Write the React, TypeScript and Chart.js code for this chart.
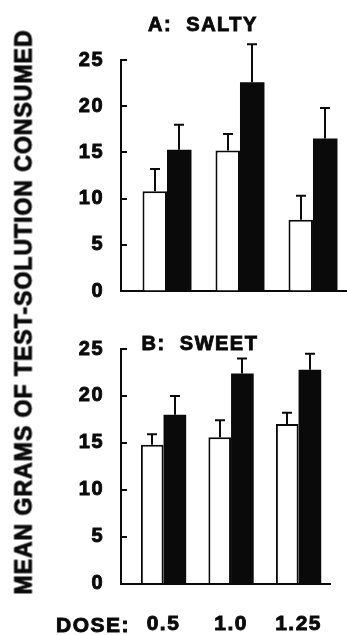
import React, { useEffect, useRef } from 'react';
import { Chart, registerables } from 'chart.js';

Chart.register(...registerables);

// ---------- data ----------
const doses = ['0.5', '1.0', '1.25'];
const dosePositions = [1, 2, 3];
const yTickValues = [0, 5, 10, 15, 20, 25];

const saltyControl = [10.8, 15.2, 7.7];
const saltyControlErr = [2.4, 1.8, 2.6];
const saltyDrug = [15.3, 22.6, 16.5];
const saltyDrugErr = [2.7, 4.1, 3.3];

const sweetControl = [14.8, 15.6, 17.0];
const sweetControlErr = [1.1, 1.8, 1.2];
const sweetDrug = [18.0, 22.4, 22.8];
const sweetDrugErr = [2.0, 1.6, 1.7];

// ---------- style ----------
const FONT = '"Liberation Sans", Arial, Helvetica, sans-serif';
const INK = '#0a0a0a';
const W = 347;

const paperPlugin = {
  id: 'paper',
  beforeDraw(chart: any) {
    chart.ctx.letterSpacing = '1.5px';
  },
  afterDatasetsDraw(chart: any) {
    const ctx = chart.ctx;
    const y = chart.scales.y;
    ctx.save();
    ctx.strokeStyle = INK;
    ctx.lineWidth = 2;
    chart.data.datasets.forEach((ds: any, di: number) => {
      const meta = chart.getDatasetMeta(di);
      meta.data.forEach((bar: any, i: number) => {
        const v = ds.data[i].y;
        const top = y.getPixelForValue(v + ds.errors[i]);
        const x = Math.round(bar.x);
        ctx.beginPath();
        ctx.moveTo(x, bar.y);
        ctx.lineTo(x, top);
        ctx.moveTo(x - 5, top);
        ctx.lineTo(x + 5, top);
        ctx.stroke();
      });
    });
    const left = chart.chartArea.left;
    y.ticks.forEach((t: any) => {
      const py = Math.round(y.getPixelForValue(t.value));
      ctx.beginPath();
      ctx.moveTo(left, py);
      ctx.lineTo(left + 6, py);
      ctx.stroke();
    });
    ctx.restore();
  },
};

function makeConfig(
  control: number[],
  controlErr: number[],
  drug: number[],
  drugErr: number[],
  showDose: boolean,
  padTop: number,
  padBottom: number,
  xHeight: number
): any {
  return {
    type: 'bar',
    data: {
      datasets: [
        {
          label: 'control',
          data: dosePositions.map((x, i) => ({ x, y: control[i] })),
          errors: controlErr,
          backgroundColor: '#ffffff',
          borderColor: INK,
          borderWidth: 2,
          borderSkipped: 'start',
        },
        {
          label: 'drug',
          data: dosePositions.map((x, i) => ({ x, y: drug[i] })),
          errors: drugErr,
          backgroundColor: INK,
          borderWidth: 0,
        },
      ],
    },
    options: {
      responsive: false,
      devicePixelRatio: 1,
      animation: false,
      layout: { padding: { top: padTop, bottom: padBottom, left: 0, right: 0 } },
      plugins: { legend: { display: false }, tooltip: { enabled: false }, title: { display: false } },
      datasets: { bar: { categoryPercentage: 0.671, barPercentage: 1 } },
      scales: {
        x: {
          type: 'linear',
          min: 0.37,
          max: 3.466,
          offset: false,
          grid: { display: true, drawOnChartArea: false, drawTicks: false, offset: false },
          border: { display: true, color: INK, width: 2 },
          afterFit: (s: any) => {
            s.height = xHeight;
          },
          ticks: {
            display: showDose,
            stepSize: 1,
            includeBounds: false,
            autoSkip: false,
            maxRotation: 0,
            padding: 28,
            color: INK,
            textStrokeColor: INK,
            textStrokeWidth: 0.9,
            font: { family: FONT, size: 21, weight: 'bold' },
            callback: (v: number) => (Number.isInteger(v) && doses[v - 1] ? doses[v - 1] : ''),
          },
        },
        y: {
          type: 'linear',
          min: 0,
          max: 25,
          grid: { display: true, drawOnChartArea: false, drawTicks: false },
          border: { display: true, color: INK, width: 2 },
          afterFit: (s: any) => {
            s.width = 121;
          },
          afterBuildTicks: (s: any) => {
            s.ticks = yTickValues.map((value) => ({ value }));
          },
          ticks: {
            padding: 17,
            color: INK,
            textStrokeColor: INK,
            textStrokeWidth: 0.9,
            font: { family: FONT, size: 20, weight: 'bold' },
          },
        },
      },
    },
    plugins: [paperPlugin],
  };
}

function Panel(props: { top: number; height: number; config: () => any }) {
  const ref = useRef<HTMLCanvasElement | null>(null);
  useEffect(() => {
    if (!ref.current) return;
    const chart = new Chart(ref.current, props.config());
    return () => chart.destroy();
  }, []);
  return (
    <canvas
      ref={ref}
      width={W}
      height={props.height}
      style={{ position: 'absolute', left: 0, top: props.top, width: W, height: props.height }}
    />
  );
}

const textBase: React.CSSProperties = {
  position: 'absolute',
  fontFamily: FONT,
  fontWeight: 'bold',
  color: INK,
  whiteSpace: 'pre',
  WebkitTextStroke: `0.9px ${INK}`,
};

export default function App() {
  return (
    <div
      style={{
        position: 'absolute',
        left: 0,
        top: 0,
        width: W,
        height: 635,
        overflow: 'hidden',
        background: '#ffffff',
      }}
    >
      <Panel
        top={0}
        height={320}
        config={() => makeConfig(saltyControl, saltyControlErr, saltyDrug, saltyDrugErr, false, 60, 21.5, 0)}
      />
      <Panel
        top={320}
        height={315}
        config={() => makeConfig(sweetControl, sweetControlErr, sweetDrug, sweetDrugErr, true, 28, 0, 51.5)}
      />
      <div
        style={{
          ...textBase,
          left: 103,
          top: 13.5,
          width: 200,
          textAlign: 'center',
          fontSize: 20,
          lineHeight: '20px',
          letterSpacing: '1.5px',
        }}
      >
        {'A:  SALTY'}
      </div>
      <div
        style={{
          ...textBase,
          left: 100,
          top: 332.5,
          width: 200,
          textAlign: 'center',
          fontSize: 20,
          lineHeight: '20px',
          letterSpacing: '1.5px',
        }}
      >
        {'B:  SWEET'}
      </div>
      <div
        style={{
          ...textBase,
          left: 24,
          top: 312,
          transform: 'translate(-50%, -50%) rotate(-90deg)',
          fontSize: 23,
          lineHeight: '23px',
          letterSpacing: '1px',
        }}
      >
        MEAN GRAMS OF TEST-SOLUTION CONSUMED
      </div>
      <div
        style={{
          ...textBase,
          left: 56,
          top: 614,
          fontSize: 21,
          lineHeight: '21px',
          letterSpacing: '1.5px',
        }}
      >
        DOSE:
      </div>
    </div>
  );
}
